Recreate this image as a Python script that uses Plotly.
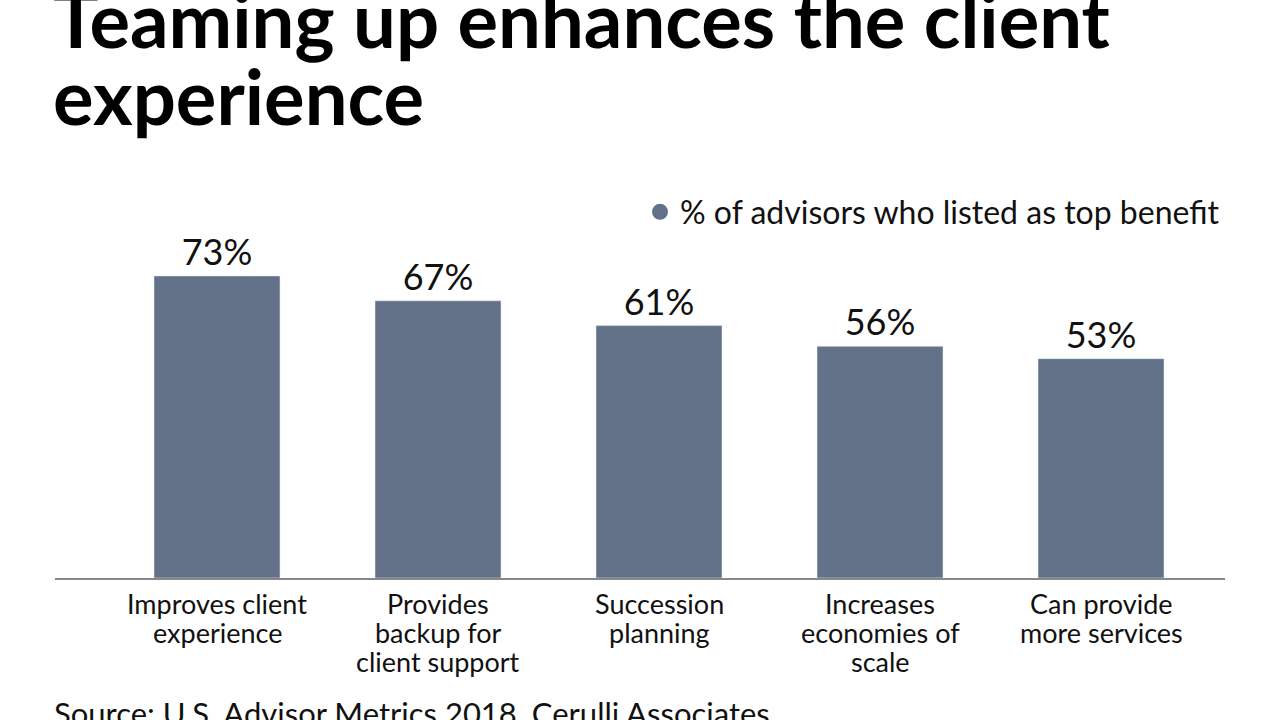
import plotly.graph_objects as go

categories = ["Improves client<br>experience", "Provides<br>backup for<br>client support",
              "Succession<br>planning", "Increases<br>economies of<br>scale", "Can provide<br>more services"]
values = [73, 67, 61, 56, 53]
labels = ["73%", "67%", "61%", "56%", "53%"]
series_name = "% of advisors who listed as top benefit"
title_lines = ["Teaming up enhances the client", "experience"]
source = "Source: U.S. Advisor Metrics 2018, Cerulli Associates"

BAR = "#637288"
FONT = "Lato, 'Open Sans', sans-serif"
TOP, BOTTOM = 247, 578
H = BOTTOM - TOP


def py(pix):
    return (BOTTOM - pix) / H


fig = go.Figure()
fig.add_trace(go.Bar(
    x=categories, y=values, text=labels, textposition="outside",
    textfont=dict(size=36, color="#111111", family=FONT),
    marker=dict(color=BAR), width=0.57, showlegend=False, cliponaxis=False,
))
fig.add_trace(go.Scatter(
    x=[None], y=[None], mode="markers", name=series_name,
    marker=dict(color=BAR, size=16, symbol="circle"), showlegend=True,
))

annotations = []
for i, line in enumerate(title_lines):
    annotations.append(dict(text="<b>" + line + "</b>", xref="paper", yref="paper",
                            x=0, y=py([18, 96][i]), xanchor="left", yanchor="middle",
                            showarrow=False, xshift=-4,
                            font=dict(size=76, family=FONT, color="#000000")))
for cat in categories:
    for j, part in enumerate(cat.split("<br>")):
        annotations.append(dict(text=part, xref="x", yref="paper", x=cat, y=py(603 + 29 * j),
                                xanchor="center", yanchor="middle", showarrow=False,
                                font=dict(size=27, family=FONT, color="#111111")))
annotations.append(dict(text=source, xref="paper", yref="paper", x=0, y=py(713),
                        xanchor="left", yanchor="middle", showarrow=False, xshift=-3,
                        font=dict(size=31, family=FONT, color="#111111")))

fig.update_layout(
    width=1280, height=720,
    margin=dict(l=55, r=55, t=TOP, b=720 - BOTTOM),
    paper_bgcolor="white", plot_bgcolor="white",
    font=dict(family=FONT, color="#111111"),
    legend=dict(x=1, xanchor="right", y=py(212), yanchor="middle",
                font=dict(size=32, family=FONT, color="#111111"),
                bgcolor="rgba(0,0,0,0)", itemwidth=30),
    xaxis=dict(type="category", range=[-0.733, 4.561], showline=True,
               linecolor="#888888", linewidth=1.5, ticks="", showgrid=False,
               showticklabels=False),
    yaxis=dict(range=[0, 80], visible=False, showgrid=False),
    annotations=annotations,
)

fig.write_html("out.html", config={"displayModeBar": False},
               post_script="document.body.style.margin='0';")
